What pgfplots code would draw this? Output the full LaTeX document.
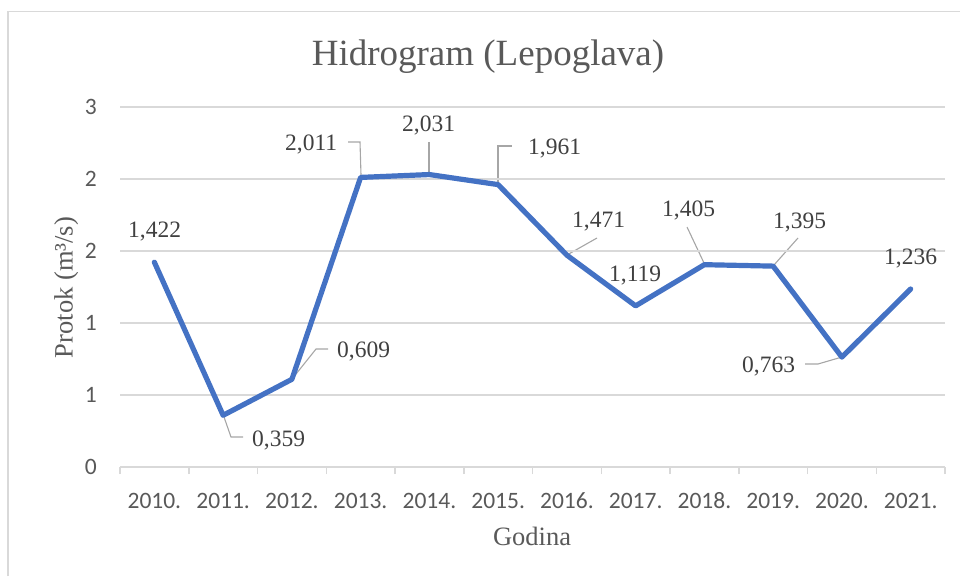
\documentclass[border=0pt]{standalone}
\usepackage{pgfplots}
\pgfplotsset{compat=1.18}
\usepackage{fontspec}
\setmainfont{Liberation Serif}
\newfontfamily\calibri{Carlito}
\definecolor{lineblue}{HTML}{4472C4}
\definecolor{gridgray}{HTML}{D9D9D9}
\definecolor{textgray}{HTML}{595959}
\definecolor{labelgray}{HTML}{404040}
\definecolor{leadergray}{HTML}{A6A6A6}
\begin{document}
\begin{tikzpicture}[x=1pt,y=1pt]
\useasboundingbox (0,0) rectangle (960,576);
\draw[gridgray, line width=1.2pt] (8,0) -- (8,564.5) -- (960,564.5);
% leader lines
\begin{scope}[leadergray, line width=1.1pt]
\draw (224,159) -- (231,139) -- (243,139);
\draw (292,197) -- (316,227) -- (328,227);
\draw (348,434) -- (360,434) -- (361,401);
\draw (429,434) -- (429,403);
\draw (498,393) -- (498,430) -- (512,430);
\draw (567,321) -- (597,338);
\draw (687,349) -- (704,313);
\draw (798,338) -- (774,311);
\draw (805,212) -- (818,212) -- (842,219);
\end{scope}
\begin{axis}[
  at={(120pt,109pt)}, anchor=south west,
  width=825pt, height=360pt, scale only axis,
  xmin=-0.5, xmax=11.5, ymin=0, ymax=2.5,
  xtick={0,1,2,3,4,5,6,7,8,9,10,11},
  xticklabels={2010.,2011.,2012.,2013.,2014.,2015.,2016.,2017.,2018.,2019.,2020.,2021.},
  ytick={0,0.5,1,1.5,2,2.5},
  yticklabels={0,1,1,2,2,3},
  axis line style={draw=none},
  ymajorgrids, grid style={gridgray, line width=1.5pt},
  major tick length=0pt,
  tick pos=left,
  ticklabel style={font=\calibri\fontsize{23.5}{28}\selectfont, text=textgray, inner sep=0pt},
  xticklabel style={anchor=base, yshift=-41pt},
  yticklabel style={anchor=east, xshift=-23pt},
  extra x ticks={-0.5,0.5,1.5,2.5,3.5,4.5,5.5,6.5,7.5,8.5,9.5,10.5,11.5},
  extra x tick labels={},
  extra x tick style={grid=none, major tick length=7pt, tick align=outside, tick style={draw=gridgray, line width=1.5pt}},
]
\addplot[lineblue, line width=5.2pt, line cap=round, line join=round] coordinates {
(0,1.422) (1,0.359) (2,0.609) (3,2.011) (4,2.031) (5,1.961)
(6,1.471) (7,1.119) (8,1.405) (9,1.395) (10,0.763) (11,1.236)};
\end{axis}
% data labels
\begin{scope}[every node/.style={anchor=base west, inner sep=0pt, text=labelgray, font=\fontsize{23.5}{28}\selectfont}]
\node at (128,338) {1,422};
\node at (252,130) {0,359};
\node at (337,219) {0,609};
\node at (285,425) {2,011};
\node at (402,444) {2,031};
\node at (528,421) {1,961};
\node at (572,348) {1,471};
\node at (609,294) {1,119};
\node at (662,359) {1,405};
\node at (773,347) {1,395};
\node at (884,311) {1,236};
\node at (742,204) {0,763};
\end{scope}
\node[anchor=base, inner sep=0pt, text=textgray, font=\fontsize{37}{44}\selectfont] at (488,510) {Hidrogram (Lepoglava)};
\node[anchor=base, inner sep=0pt, rotate=90, text=textgray, font=\fontsize{26.5}{32}\selectfont] at (72.5,288.5) {Protok (m³/s)};
\node[anchor=base, inner sep=0pt, text=textgray, font=\fontsize{26.5}{32}\selectfont] at (532,31) {Godina};
\end{tikzpicture}
\end{document}
